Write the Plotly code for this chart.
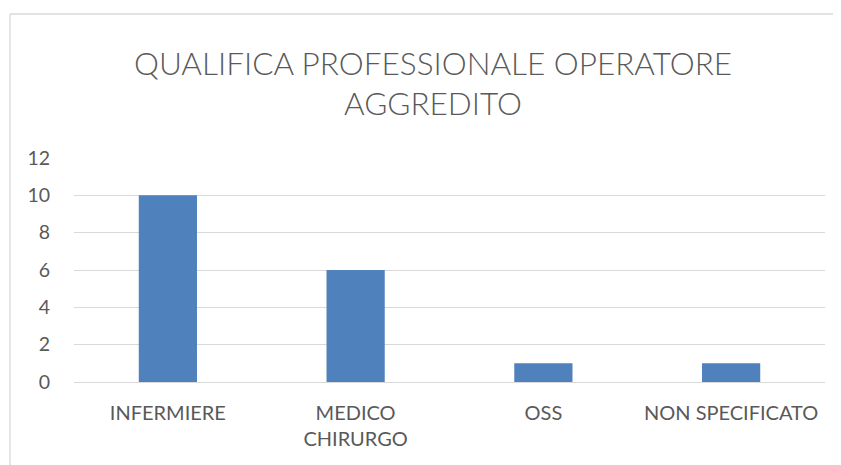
import plotly.graph_objects as go

categories = ["INFERMIERE", "MEDICO<br>CHIRURGO", "OSS", "NON SPECIFICATO"]
values = [10, 6, 1, 1]
y_ticks = [0, 2, 4, 6, 8, 10, 12]
title_lines = ["QUALIFICA PROFESSIONALE OPERATORE", "AGGREDITO"]

FONT = "Lato, Open Sans, sans-serif"
GREY = "#595959"
GRID = "#d9d9d9"

OFF = 8  # page body margin
W, H = 841 - OFF, 465 - OFF
L, T = 74 - OFF, 158 - OFF
R = W - (825 - OFF)
B = H - (382 - OFF)
pw, ph = W - L - R, H - T - B

def px(x):
    return (x - OFF - L) / pw

def py(y):
    return (H - B - (y - OFF)) / ph

fig = go.Figure(go.Bar(
    x=categories, y=values,
    marker=dict(color="#4f81bd", line=dict(width=0)),
    width=0.31,
))

fig.update_layout(
    width=W, height=H,
    margin=dict(l=L, r=R, t=T, b=B),
    paper_bgcolor="white", plot_bgcolor="white",
    showlegend=False,
    font=dict(family=FONT, color=GREY, size=20),
    xaxis=dict(showgrid=False, showline=False, zeroline=False,
               ticks="outside", ticklen=13, tickcolor="rgba(0,0,0,0)",
               tickfont=dict(size=20, color=GREY)),
    yaxis=dict(range=[0, 12], tickvals=y_ticks, showgrid=True, gridcolor=GRID,
               gridwidth=1.3, zeroline=True, zerolinecolor=GRID, zerolinewidth=1.3,
               showline=False, ticks="outside", ticklen=19,
               tickcolor="rgba(0,0,0,0)", tickfont=dict(size=19.5, color=GREY)),
    shapes=[
        dict(type="line", xref="paper", yref="paper", x0=px(10), x1=px(850),
             y0=py(14), y1=py(14), line=dict(color=GRID, width=1.3)),
        dict(type="line", xref="paper", yref="paper", x0=px(10), x1=px(10),
             y0=py(14), y1=py(475), line=dict(color=GRID, width=1.3)),
    ],
    annotations=[
        dict(text=title_lines[0], xref="paper", yref="paper", x=px(433), y=py(63),
             showarrow=False, xanchor="center", yanchor="middle",
             font=dict(family=FONT, size=31.5, color=GREY, weight=300)),
        dict(text=title_lines[1], xref="paper", yref="paper", x=px(433), y=py(103),
             showarrow=False, xanchor="center", yanchor="middle",
             font=dict(family=FONT, size=31.5, color=GREY, weight=300)),
    ],
)

fig.write_html("out.html")
